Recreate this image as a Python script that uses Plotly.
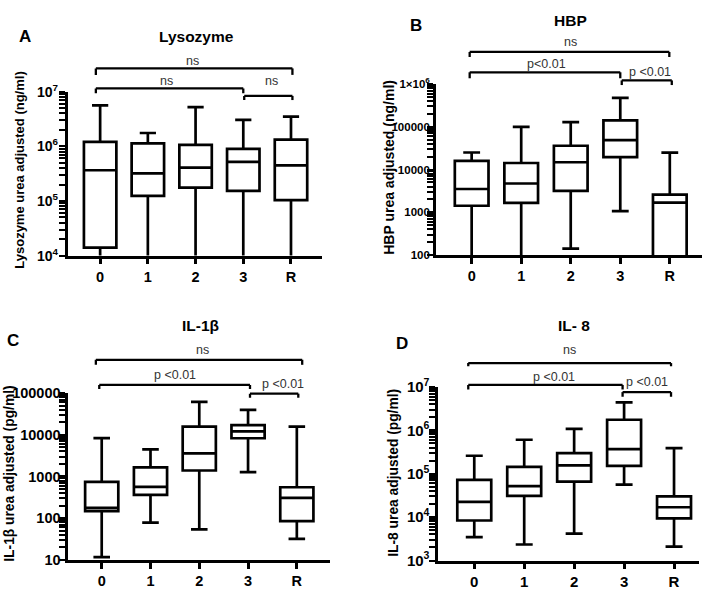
import plotly.graph_objects as go

W, H = 709, 594

categories = ["0", "1", "2", "3", "R"]

# Lysozyme (ng/ml) - lower whiskers run below the axis floor
lys_min = [5e3, 5e3, 5e3, 5e3, 5e3]
lys_q1 = [1.4e4, 1.24e5, 1.75e5, 1.53e5, 1.04e5]
lys_med = [3.65e5, 3.2e5, 4.06e5, 5.2e5, 4.48e5]
lys_q3 = [1.21e6, 1.13e6, 1.06e6, 8.97e5, 1.33e6]
lys_max = [5.6e6, 1.75e6, 5.2e6, 3.05e6, 3.5e6]

# HBP (ng/ml)
hbp_min = [60, 60, 141, 1060, 40]
hbp_q1 = [1.42e3, 1.65e3, 3.16e3, 1.94e4, 70]
hbp_med = [3.5e3, 4.7e3, 1.48e4, 4.86e4, 1.67e3]
hbp_q3 = [1.6e4, 1.42e4, 3.6e4, 1.42e5, 2.57e3]
hbp_max = [2.5e4, 1.0e5, 1.28e5, 4.76e5, 2.48e4]

# IL-1beta (pg/ml)
il1_min = [11.6, 78, 54, 1270, 32]
il1_q1 = [147, 361, 1390, 8260, 85]
il1_med = [177, 565, 3570, 1.2e4, 306]
il1_q3 = [741, 1660, 1.57e4, 1.71e4, 551]
il1_max = [8300, 4470, 6.18e4, 3.96e4, 1.57e4]

# IL-8 (pg/ml)
il8_min = [3460, 2340, 4150, 5.6e4, 2090]
il8_q1 = [8370, 3.1e4, 6.6e4, 1.51e5, 9400]
il8_med = [2.24e4, 5.15e4, 1.56e5, 3.67e5, 1.69e4]
il8_q3 = [7.24e4, 1.43e5, 2.98e5, 1.75e6, 3.02e4]
il8_max = [2.59e5, 6.05e5, 1.08e6, 4.4e6, 3.87e5]

lys_ticks = [1e4, 1e5, 1e6, 1e7]
lys_ticktext = ["10<sup>4</sup>", "10<sup>5</sup>", "10<sup>6</sup>", "10<sup>7</sup>"]
hbp_ticks = [100, 1000, 10000, 100000, 1000000]
hbp_ticktext = ["100", "1000", "10000", "100000", "1×10<sup>6</sup>"]
il1_ticks = [10, 100, 1000, 10000, 100000]
il1_ticktext = ["10", "100", "1000", "10000", "100000"]
il8_ticks = [1e3, 1e4, 1e5, 1e6, 1e7]
il8_ticktext = ["10<sup>3</sup>", "10<sup>4</sup>", "10<sup>5</sup>", "10<sup>6</sup>", "10<sup>7</sup>"]

FONT = "Liberation Sans, Arial, sans-serif"

def px_x(p):
    return p / W

def px_y(p):
    return 1 - p / H

panels = [
    dict(stats=(lys_min, lys_q1, lys_med, lys_q3, lys_max), xpx=(67.7, 322), ypx=(83.3, 252.7),
         xr=[-0.68, 4.65], yr=[4, 7], tv=lys_ticks, tt=lys_ticktext, yfs=14, xfs=14.5, sto=-2),
    dict(stats=(hbp_min, hbp_q1, hbp_med, hbp_q3, hbp_max), xpx=(436, 702), ypx=(75.5, 252),
         xr=[-0.72, 4.65], yr=[2, 6], tv=hbp_ticks, tt=hbp_ticktext, yfs=11.5, xfs=14.5, sto=-5),
    dict(stats=(il1_min, il1_q1, il1_med, il1_q3, il1_max), xpx=(68.3, 330), ypx=(394.7, 567),
         xr=[-0.685, 4.68], yr=[1, 5], tv=il1_ticks, tt=il1_ticktext, yfs=14.5, xfs=14.5, sto=-4),
    dict(stats=(il8_min, il8_q1, il8_med, il8_q3, il8_max), xpx=(438.3, 699), ypx=(388.3, 567.7),
         xr=[-0.72, 4.5], yr=[3, 7], tv=il8_ticks, tt=il8_ticktext, yfs=15, xfs=15, sto=-3),
]

fig = go.Figure()
layout = dict(width=W, height=H, margin=dict(l=0, r=0, t=0, b=0), showlegend=False,
              plot_bgcolor="white", paper_bgcolor="white",
              font=dict(family=FONT, color="black"))

for i, p in enumerate(panels):
    n = "" if i == 0 else str(i + 1)
    mn, q1, md, q3, mx = p["stats"]
    fig.add_trace(go.Box(
        x=categories, q1=q1, median=md, q3=q3, lowerfence=mn, upperfence=mx,
        boxpoints=False, width=0.68, whiskerwidth=0.5,
        fillcolor="white", line=dict(color="black", width=2.7),
        xaxis="x" + n, yaxis="y" + n, hoverinfo="skip"))
    lo, hi = p["yr"]
    minor_vals = [float(k * 10 ** e) for e in range(lo, hi) for k in range(2, 10)]
    all_vals = list(p["tv"]) + minor_vals
    all_text = list(p["tt"]) + [" "] * len(minor_vals)
    layout["xaxis" + n] = dict(
        domain=[px_x(p["xpx"][0]), px_x(p["xpx"][1])], anchor="y" + n,
        type="category", range=p["xr"], showgrid=False, zeroline=False,
        showline=True, linewidth=2.7, linecolor="black",
        ticks="outside", ticklen=6, tickwidth=2.5, tickcolor="black",
        tickfont=dict(size=p["xfs"], family=FONT, weight="bold", color="black"))
    layout["yaxis" + n] = dict(
        domain=[px_y(p["ypx"][1]), px_y(p["ypx"][0])], anchor="x" + n,
        type="log", range=p["yr"], showgrid=False, zeroline=False,
        showline=True, linewidth=2.7, linecolor="black",
        ticks="outside", ticklen=6, tickwidth=2, tickcolor="black",
        tickmode="array", tickvals=all_vals, ticktext=all_text,
        ticklabelstandoff=p["sto"],
        tickfont=dict(size=p["yfs"], family=FONT, weight="bold", color="black"))

shapes = []
annotations = []

def bracket(n, x0, x1, y, ydrop, label, lx, ly):
    xr = "x" + n
    yy = px_y(y)
    yd = px_y(ydrop)
    style = dict(color="black", width=2.3)
    shapes.append(dict(type="line", xref=xr, yref="paper", x0=x0, x1=x1, y0=yy, y1=yy, line=style))
    shapes.append(dict(type="line", xref=xr, yref="paper", x0=x0, x1=x0, y0=yy, y1=yd, line=style))
    shapes.append(dict(type="line", xref=xr, yref="paper", x0=x1, x1=x1, y0=yy, y1=yd, line=style))
    annotations.append(dict(text=label, xref=xr, yref="paper", x=lx, y=px_y(ly),
                            showarrow=False, xanchor="center", yanchor="middle",
                            font=dict(size=12.5, family=FONT, color="#333")))

# Panel A
bracket("", -0.09, 4.03, 59.3, 66, "ns", 1.94, 51.7)
bracket("", -0.09, 3.0, 80, 85, "ns", 1.40, 72.3)
bracket("", 3.02, 4.03, 87.7, 92, "ns", 3.6, 72.3)
# Panel B
bracket("2", -0.04, 3.99, 42.3, 47.5, "ns", 2.0, 32)
bracket("2", -0.04, 3.0, 63.3, 69.5, "p<0.01", 1.51, 55)
bracket("2", 3.03, 4.04, 71.7, 76.5, "p <0.01", 3.61, 62.7)
# Panel C
bracket("3", -0.12, 4.11, 360.3, 365.5, "ns", 2.06, 350.3)
bracket("3", -0.05, 3.04, 386.3, 390.5, "p <0.01", 1.5, 376.3)
bracket("3", 3.04, 4.03, 395.3, 399.5, "p <0.01", 3.72, 385.3)
# Panel D
bracket("4", -0.12, 3.94, 363.7, 367, "ns", 1.9, 350.3)
bracket("4", -0.12, 2.97, 386.3, 391, "p <0.01", 1.6, 378)
bracket("4", 2.97, 3.94, 393.7, 398.5, "p <0.01", 3.46, 383)

def text(t, x, y, size, bold=True, angle=0):
    annotations.append(dict(text=t, xref="paper", yref="paper", x=px_x(x), y=px_y(y),
                            showarrow=False, xanchor="center", yanchor="middle", textangle=angle,
                            font=dict(size=size, family=FONT, color="black",
                                      weight="bold" if bold else "normal")))

# titles
text("Lysozyme", 196, 26.7, 15.5)
text("HBP", 570.7, 10, 15.5)
text("IL-1β", 200, 325.3, 15.5)
text("IL- 8", 574, 325.3, 15.5)
# panel letters
text("A", 25, 26, 17)
text("B", 415.7, 15, 17)
text("C", 13.3, 340.3, 17)
text("D", 402.3, 343.7, 17)
# y axis titles
text("Lysozyme urea adjusted (ng/ml)", 20, 165, 13, angle=-90)
text("HBP urea adjusted (ng/ml)", 389, 162, 14, angle=-90)
text("IL-1β urea adjusted (pg/ml)", 10, 478, 13.8, angle=-90)
text("IL-8 urea adjusted (pg/ml)", 394, 477, 13.8, angle=-90)

layout["shapes"] = shapes
layout["annotations"] = annotations
fig.update_layout(**layout)
fig.write_html("out.html", config={"displayModeBar": False},
               post_script="document.body.style.margin='0';document.body.style.overflow='hidden';")
